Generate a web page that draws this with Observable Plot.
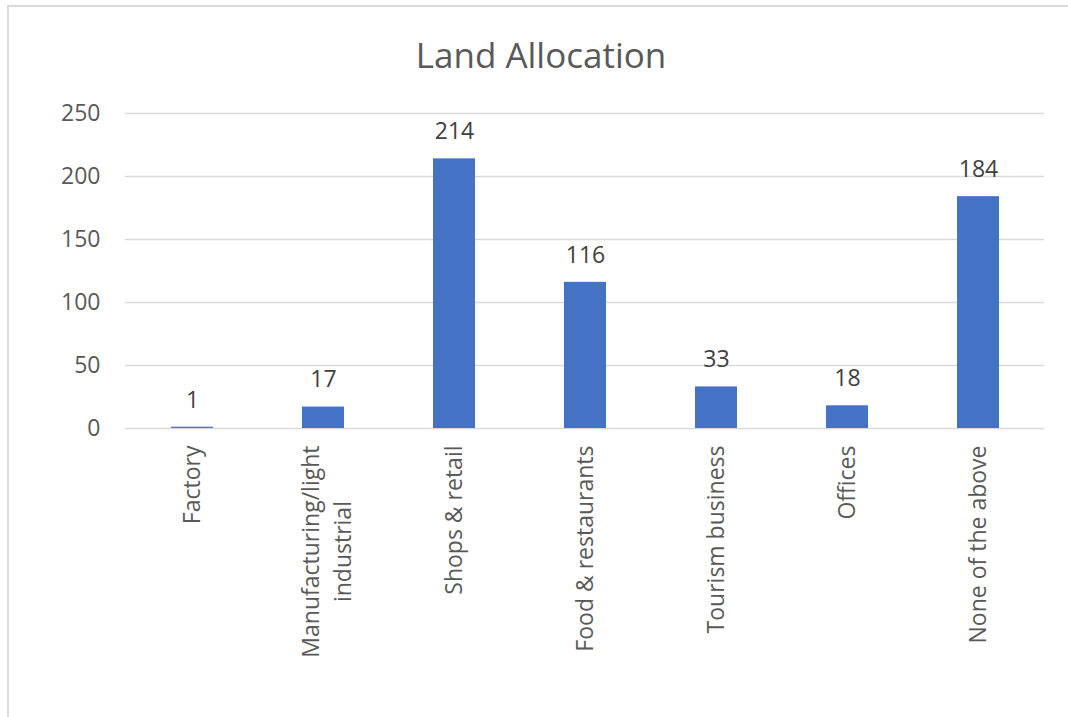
<!DOCTYPE html>
<html>
<head>
<meta charset="utf-8">
<script src="https://cdn.jsdelivr.net/npm/d3@7"></script>
<script src="https://cdn.jsdelivr.net/npm/@observablehq/plot@0.6"></script>
<style>
  html, body { margin: 0; padding: 0; background: #fff; overflow: hidden; width: 1068px; height: 717px; }
  #frame { position: absolute; left: 7px; top: 5px; width: 1100px; height: 760px;
           border-left: 2px solid #d9d9d9; border-top: 2px solid #d9d9d9; box-sizing: border-box; }
  #wrap { position: absolute; left: 0; top: 0; width: 1068px; }
  #title { height: 80px; line-height: 110px; text-align: center; font-family: "Open Sans", sans-serif;
           font-size: 35px; color: #595959; padding-left: 14px; box-sizing: border-box; }
</style>
</head>
<body>
<div id="frame"></div>
<div id="wrap">
  <div id="title">Land Allocation</div>
  <div id="chart"></div>
</div>
<script>
const categories = ["Factory", "Manufacturing/light industrial", "Shops & retail", "Food & restaurants", "Tourism business", "Offices", "None of the above"];
const labelLines = [["Factory"], ["Manufacturing/light", "industrial"], ["Shops & retail"], ["Food & restaurants"], ["Tourism business"], ["Offices"], ["None of the above"]];
const values = [1, 17, 214, 116, 33, 18, 184];
const yTicks = [0, 50, 100, 150, 200, 250];

const FONT = "'Open Sans', sans-serif";
const FS = 23;
const ctx = document.createElement("canvas").getContext("2d");
ctx.font = `${FS}px ${FONT}`;

const data = categories.map((c, i) => ({category: c, value: values[i], lines: labelLines[i], zero: 0}));
const single = data.filter(d => d.lines.length === 1);
const multi = data.filter(d => d.lines.length > 1);
const firstWidth = multi.length ? ctx.measureText(multi[0].lines[0]).width : 0;

const PAD = 17;
const LINE = 32;

const chart = Plot.plot({
  width: 1068,
  height: 637,
  marginTop: 33,
  marginBottom: 289,
  marginLeft: 125,
  marginRight: 24,
  style: {fontFamily: FONT, fontSize: FS + "px", color: "#595959", background: "transparent"},
  x: {domain: categories, paddingInner: 0.68, paddingOuter: 0.34, label: null, axis: null},
  y: {domain: [0, 250], label: null},
  marks: [
    Plot.gridY(yTicks, {stroke: "#d9d9d9", strokeOpacity: 1, strokeWidth: 1.5}),
    Plot.barY(data, {x: "category", y: "value", fill: "#4472C4"}),
    Plot.text(data, {x: "category", y: "value", text: d => String(d.value), dy: -27, fill: "#404040", fontSize: FS}),
    Plot.axisY(yTicks, {tickSize: 0, tickPadding: 25, fill: "#595959", fontSize: FS, label: null}),
    Plot.text(single, {x: "category", y: "zero", text: d => d.lines[0], rotate: -90, textAnchor: "end", dy: PAD, fill: "#595959", fontSize: FS}),
    Plot.text(multi, {x: "category", y: "zero", text: d => d.lines[0], rotate: -90, textAnchor: "end", dy: PAD, dx: -LINE / 2 + 4, fill: "#595959", fontSize: FS}),
    Plot.text(multi, {x: "category", y: "zero", text: d => d.lines[1], rotate: -90, textAnchor: "middle", dy: PAD + firstWidth / 2, dx: LINE / 2 + 4, fill: "#595959", fontSize: FS})
  ]
});
document.getElementById("chart").appendChild(chart);
</script>
</body>
</html>
